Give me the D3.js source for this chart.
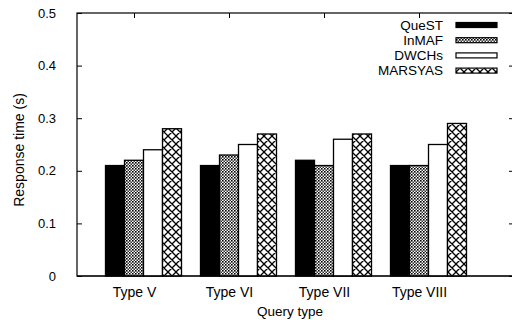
<!DOCTYPE html>
<html>
<head>
<meta charset="utf-8">
<script src="https://cdn.jsdelivr.net/npm/d3@7"></script>
<style>
  body { margin: 0; background: #fff; }
  text { font-family: "Liberation Sans", Arial, sans-serif; font-size: 13px; fill: #000; }
</style>
</head>
<body>
<svg id="canvas" width="512" height="320"></svg>
<script>
// data
const queryTypes = ["Type V", "Type VI", "Type VII", "Type VIII"];
const methods = ["QueST", "InMAF", "DWCHs", "MARSYAS"];
const quest = [0.21, 0.21, 0.22, 0.21];
const inmaf = [0.22, 0.23, 0.21, 0.21];
const dwchs = [0.24, 0.25, 0.26, 0.25];
const marsyas = [0.28, 0.27, 0.27, 0.29];
const yTicks = [0, 0.1, 0.2, 0.3, 0.4, 0.5];

const series = [quest, inmaf, dwchs, marsyas];
const fills = ["#000", "url(#dense)", "#fff", "url(#hatch)"];
const fontFam = "Liberation Sans, Arial, sans-serif";

const svg = d3.select("#canvas");

// patterns
const defs = svg.append("defs");
const hatch = defs.append("pattern")
  .attr("id", "hatch")
  .attr("patternUnits", "userSpaceOnUse")
  .attr("width", 8).attr("height", 8);
hatch.append("rect").attr("width", 8).attr("height", 8).attr("fill", "#fff");
hatch.append("path")
  .attr("d", "M0,0L8,8M8,0L0,8M-1,7L1,9M7,-1L9,1M-1,1L1,-1M7,9L9,7")
  .attr("stroke", "#000").attr("stroke-width", 1.3);

const dense = defs.append("pattern")
  .attr("id", "dense")
  .attr("patternUnits", "userSpaceOnUse")
  .attr("width", 3).attr("height", 3);
dense.append("rect").attr("width", 3).attr("height", 3).attr("fill", "#fff");
dense.append("rect").attr("width", 1.6).attr("height", 1.6).attr("fill", "#000");
dense.append("rect").attr("x", 1.5).attr("y", 1.5).attr("width", 1.5).attr("height", 1.5).attr("fill", "#333");

// scales
const mLeft = 77, mRight = 514, mTop = 13, mBottom = 276;
const x = d3.scaleLinear().domain([-0.6, 4]).range([mLeft, mRight]);
const y = d3.scaleLinear().domain([0, 0.5]).range([mBottom, mTop]);
const bw = x(0.2) - x(0);

// frame
svg.append("rect")
  .attr("x", mLeft).attr("y", mTop)
  .attr("width", mRight - mLeft).attr("height", mBottom - mTop)
  .attr("fill", "none").attr("stroke", "#000").attr("stroke-width", 1.2);

// axes
svg.append("g")
  .attr("transform", `translate(${mLeft},0)`)
  .call(d3.axisLeft(y).tickValues(yTicks).tickSize(-5).tickPadding(21)
    .tickFormat(d => d === 0 ? "0" : d3.format(".1f")(d)))
  .call(g => g.select(".domain").remove())
  .call(g => g.selectAll("text").style("font-size", "13px").style("font-family", fontFam));

svg.append("g")
  .attr("transform", `translate(${mRight},0)`)
  .call(d3.axisRight(y).tickValues(yTicks).tickSize(-5).tickFormat(""))
  .call(g => g.select(".domain").remove());

const idx = queryTypes.map((d, i) => i);
svg.append("g")
  .attr("transform", `translate(0,${mBottom})`)
  .call(d3.axisBottom(x).tickValues(idx).tickSize(-5).tickPadding(11)
    .tickFormat(i => queryTypes[i]))
  .call(g => g.select(".domain").remove())
  .call(g => g.selectAll("text").style("font-size", "14px").style("font-family", fontFam));

svg.append("g")
  .attr("transform", `translate(0,${mTop})`)
  .call(d3.axisTop(x).tickValues(idx).tickSize(-5).tickFormat(""))
  .call(g => g.select(".domain").remove());

// bars
series.forEach((vals, j) => {
  svg.append("g")
    .selectAll("rect")
    .data(vals)
    .enter()
    .append("rect")
    .attr("x", (d, i) => x(i) + (j - 1.5) * bw)
    .attr("y", d => y(d))
    .attr("width", bw)
    .attr("height", d => y(0) - y(d))
    .attr("fill", fills[j])
    .attr("stroke", "#000")
    .attr("stroke-width", 1.3);
});

// bottom line over bars
svg.append("line")
  .attr("x1", mLeft).attr("x2", mRight)
  .attr("y1", mBottom).attr("y2", mBottom)
  .attr("stroke", "#000").attr("stroke-width", 1.2);

// legend
const legend = svg.append("g");
methods.forEach((m, j) => {
  const cy = 25 + j * 15.2;
  legend.append("text")
    .attr("x", 443).attr("y", cy)
    .attr("dy", "0.35em")
    .attr("text-anchor", "end")
    .style("font-size", "13.5px")
    .text(m);
  legend.append("rect")
    .attr("x", 456).attr("y", cy - 2.5)
    .attr("width", 41).attr("height", 5)
    .attr("fill", fills[j])
    .attr("stroke", "#000")
    .attr("stroke-width", 1.2);
});

// axis titles
svg.append("text")
  .attr("transform", "translate(19,150) rotate(-90)")
  .attr("text-anchor", "middle")
  .attr("dy", "0.35em")
  .style("font-size", "14px")
  .text("Response time (s)");

svg.append("text")
  .attr("x", 290).attr("y", 311)
  .attr("text-anchor", "middle")
  .attr("dy", "0.35em")
  .style("font-size", "13.5px")
  .text("Query type");
</script>
</body>
</html>
